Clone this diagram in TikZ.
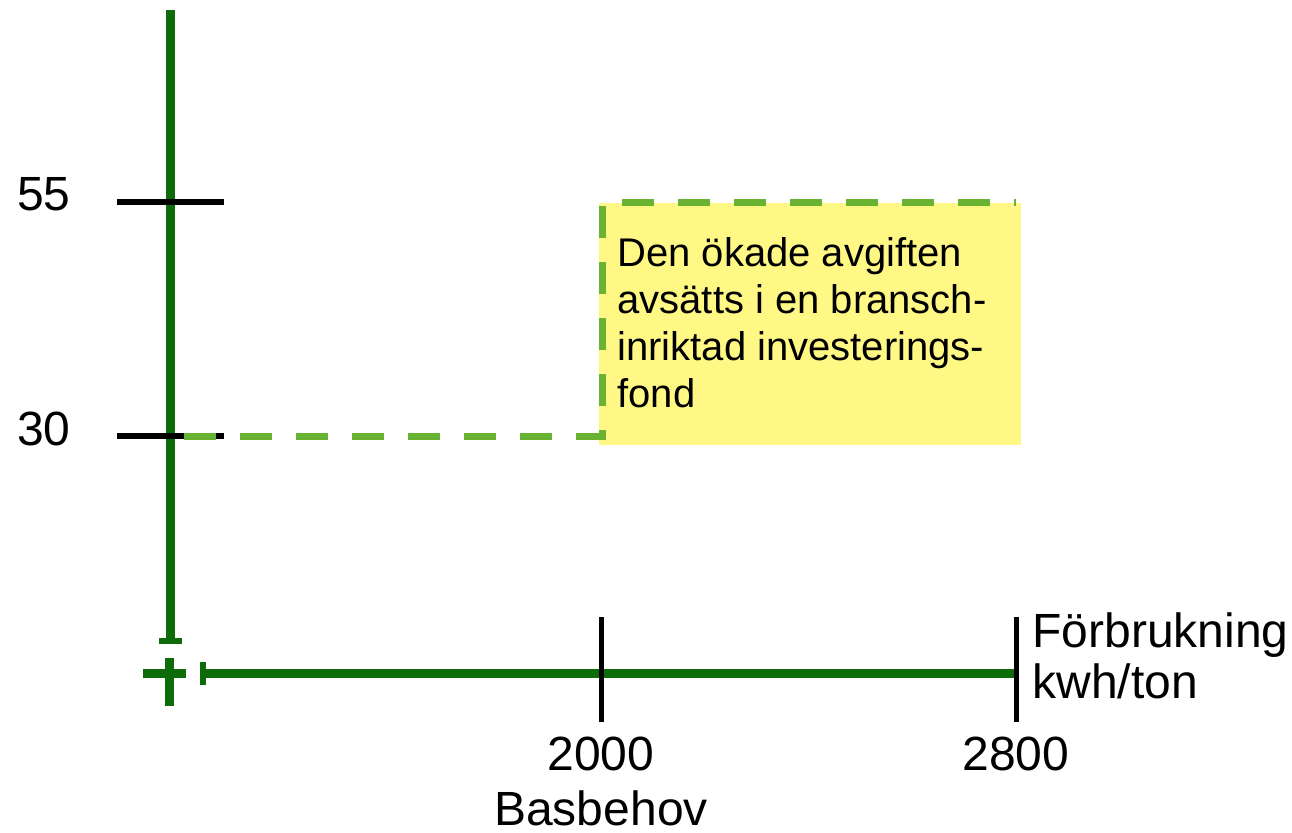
\documentclass[tikz,border=0pt]{standalone}
\usepackage{fontspec}
\setmainfont{Liberation Sans}
\usetikzlibrary{arrows.meta}
\definecolor{axisgreen}{HTML}{0E6B0A}
\definecolor{fundgreen}{HTML}{6AB232}
\definecolor{notefill}{HTML}{FFF885}
\tikzset{
  axis/.style={axisgreen, line width=4.5pt},
  tick/.style={black, line width=3pt},
  fundline/.style={fundgreen, line width=3.5pt, dash pattern=on 16pt off 12pt},
  lbl/.style={inner sep=0pt, font=\fontsize{24}{28}\selectfont},
  note/.style={inner sep=0pt, anchor=base west, align=left,
    font=\fontsize{20}{23.5}\selectfont}
}
\begin{document}
\begin{tikzpicture}[x=0.5pt, y=-0.5pt]
    \useasboundingbox (0,0) rectangle (1292,832);

    % yellow note
    \fill[notefill] (599,203) rectangle (1021,445);

    % axes
    \coordinate (ytop) at (170,10);
    \coordinate (yend) at (170,644);
    \coordinate (xstart) at (200,673);
    \coordinate (xend) at (1016,673);
    \draw[axis, -{Bar[width=11.5pt, line width=3pt]}] (ytop) -- (yend);
    \draw[axis, {Bar[width=11.5pt, line width=3pt]}-] (xstart) -- (xend);

    % cross at origin
    \coordinate (ov1) at (169,658);
    \coordinate (ov2) at (169,706);
    \coordinate (oh1) at (143,673);
    \coordinate (oh2) at (186,673);
    \draw[axis] (ov1) -- (ov2);
    \draw[axis] (oh1) -- (oh2);

    % ticks
    \coordinate (t55a) at (117,202); \coordinate (t55b) at (224,202);
    \coordinate (t30a) at (117,436); \coordinate (t30b) at (224,436);
    \coordinate (t2000a) at (601,617); \coordinate (t2000b) at (601,722);
    \coordinate (t2800a) at (1016,617); \coordinate (t2800b) at (1016,722);
    \draw[tick] (t55a) -- (t55b);
    \draw[tick] (t30a) -- (t30b);
    \draw[tick, line width=2.5pt] (t2000a) -- (t2000b);
    \draw[tick, line width=2.5pt] (t2800a) -- (t2800b);

    % dashed fund outline
    \coordinate (f1) at (184,436);
    \coordinate (f2) at (602,436);
    \coordinate (f3) at (602,202);
    \coordinate (f4) at (1016,202);
    \draw[fundline] (f1) -- (f2) -- (f3) -- (f4);

    % labels
    \node[lbl, anchor=base] (55) at (44,210) {55};
    \node[lbl, anchor=base] (30) at (44,445) {30};
    \node[lbl, anchor=base] (2000) at (601,770) {2000};
    \node[lbl, anchor=base] (bas) at (601,825) {Basbehov};
    \node[lbl, anchor=base] (2800) at (1016,770) {2800};
    \node[lbl, anchor=base west] (forb) at (1032,647) {Förbrukning};
    \node[lbl, anchor=base west] (kwh) at (1032,698) {kwh/ton};

    \node[note] (fond) at (617,407) {Den ökade avgiften\\avsätts i en bransch-\\inriktad investerings-\\fond};
\end{tikzpicture}
\end{document}
